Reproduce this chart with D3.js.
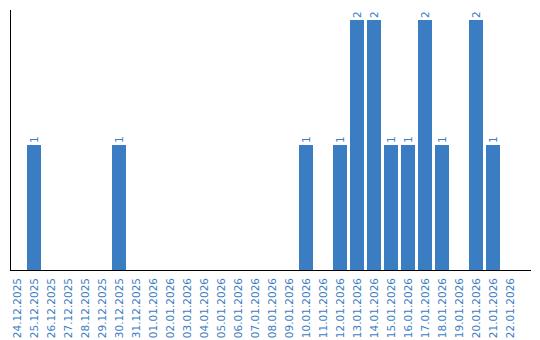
<!DOCTYPE html>
<html>
<head>
<meta charset="utf-8">
<script src="https://cdn.jsdelivr.net/npm/d3@7"></script>
<style>
  body { margin: 0; background: #fff; }
  svg { display: block; }
</style>
</head>
<body>
<div id="chart"></div>
<script>
// dates and counts
var dates = ["24.12.2025", "25.12.2025", "26.12.2025", "27.12.2025", "28.12.2025", "29.12.2025",
    "30.12.2025", "31.12.2025", "01.01.2026", "02.01.2026", "03.01.2026", "04.01.2026",
    "05.01.2026", "06.01.2026", "07.01.2026", "08.01.2026", "09.01.2026", "10.01.2026",
    "11.01.2026", "12.01.2026", "13.01.2026", "14.01.2026", "15.01.2026", "16.01.2026",
    "17.01.2026", "18.01.2026", "19.01.2026", "20.01.2026", "21.01.2026", "22.01.2026"];
var counts = [0, 1, 0, 0, 0, 0, 1, 0, 0, 0, 0, 0, 0, 0, 0, 0, 0, 1, 0, 1, 2, 2, 1, 1, 2, 1, 0, 2, 1, 0];

var width = 540, height = 340;
var barColour = "#3b7dc3";
var gap = 3;

var data = dates.map(function (d, i) { return { date: d, value: counts[i] }; });

var svg = d3.select("#chart")
    .append("svg")
    .attr("width", width)
    .attr("height", height);

var x = d3.scaleBand()
    .domain(dates)
    .range([10, 520])
    .padding(0);

var y = d3.scaleLinear()
    .domain([0, 2])
    .range([270, 20]);

var barW = x.bandwidth() - gap;

// bars
svg.selectAll("rect.bar")
    .data(data.filter(function (d) { return d.value > 0; }))
    .enter()
    .append("rect")
    .attr("class", "bar")
    .attr("x", function (d) { return x(d.date); })
    .attr("y", function (d) { return y(d.value); })
    .attr("width", barW)
    .attr("height", function (d) { return y(0) - y(d.value); })
    .attr("fill", barColour);

// value labels, rotated
svg.selectAll("text.val")
    .data(data.filter(function (d) { return d.value > 0; }))
    .enter()
    .append("text")
    .attr("class", "val")
    .attr("transform", function (d) {
        return "translate(" + (x(d.date) + barW / 2 + 4) + "," + (y(d.value) - 2) + ") rotate(-90)";
    })
    .attr("font-family", "DejaVu Sans, sans-serif")
    .attr("font-size", "10.5px")
    .attr("fill", barColour)
    .attr("text-anchor", "start")
    .text(function (d) { return d.value; });

// axis lines
svg.append("line")
    .attr("x1", 10.5).attr("x2", 10.5)
    .attr("y1", 10).attr("y2", 270.5)
    .attr("stroke", "#000");
svg.append("line")
    .attr("x1", 10).attr("x2", 531)
    .attr("y1", 270.5).attr("y2", 270.5)
    .attr("stroke", "#000");

// x tick labels
svg.selectAll("text.tick")
    .data(dates)
    .enter()
    .append("text")
    .attr("class", "tick")
    .attr("transform", function (d) {
        return "translate(" + (x(d) + barW / 2 + 4) + ",278) rotate(-90)";
    })
    .attr("font-family", "DejaVu Sans, sans-serif")
    .attr("font-size", "10.5px")
    .attr("fill", barColour)
    .attr("text-anchor", "end")
    .text(function (d) { return d; });
</script>
</body>
</html>
